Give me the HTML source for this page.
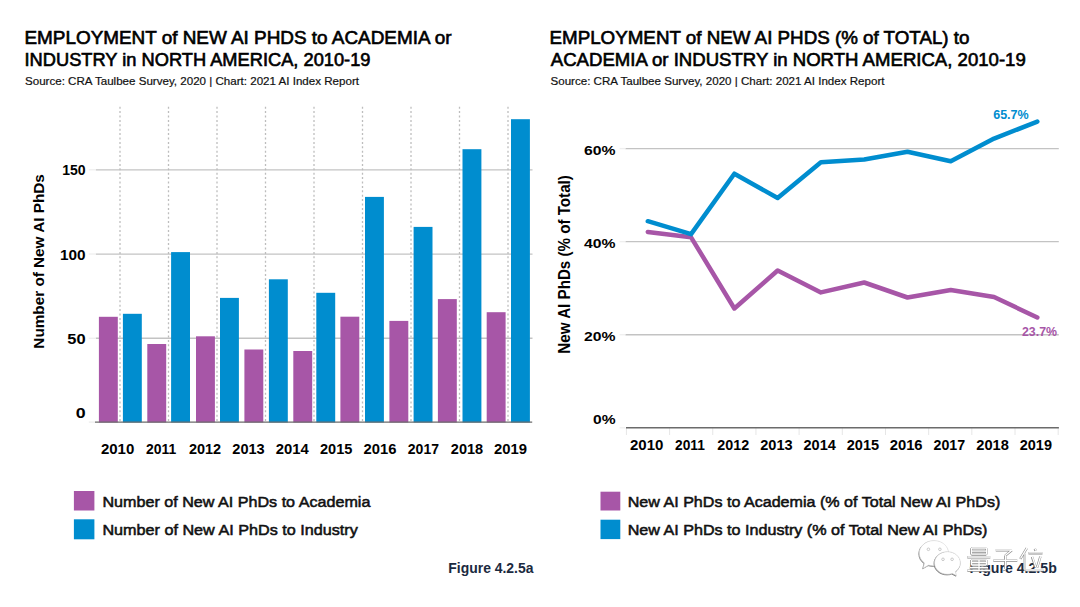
<!DOCTYPE html><html><head><meta charset="utf-8"><style>html,body{margin:0;padding:0;background:#fff;width:1080px;height:607px;overflow:hidden}svg{display:block}text{font-family:"Liberation Sans",sans-serif}</style></head><body>
<svg width="1080" height="607" viewBox="0 0 1080 607">
<rect width="1080" height="607" fill="#fff"/>
<text x="24.5" y="43.7" font-size="17.5" font-weight="normal" fill="#000" text-anchor="start" textLength="427" lengthAdjust="spacingAndGlyphs"  stroke="#000" stroke-width="0.6">EMPLOYMENT of NEW AI PHDS to ACADEMIA or</text>
<text x="24.5" y="66.2" font-size="17.5" font-weight="normal" fill="#000" text-anchor="start" textLength="346" lengthAdjust="spacingAndGlyphs"  stroke="#000" stroke-width="0.6">INDUSTRY in NORTH AMERICA, 2010-19</text>
<text x="25" y="85" font-size="11" font-weight="normal" fill="#111" text-anchor="start" textLength="334" lengthAdjust="spacingAndGlyphs"  stroke="#111" stroke-width="0.2">Source: CRA Taulbee Survey, 2020 | Chart: 2021 AI Index Report</text>
<text x="549.5" y="43.5" font-size="17.5" font-weight="normal" fill="#000" text-anchor="start" textLength="420" lengthAdjust="spacingAndGlyphs"  stroke="#000" stroke-width="0.6">EMPLOYMENT of NEW AI PHDS (% of TOTAL) to</text>
<text x="550.8" y="66.2" font-size="17.5" font-weight="normal" fill="#000" text-anchor="start" textLength="475" lengthAdjust="spacingAndGlyphs"  stroke="#000" stroke-width="0.6">ACADEMIA or INDUSTRY in NORTH AMERICA, 2010-19</text>
<text x="550.5" y="85.3" font-size="11" font-weight="normal" fill="#111" text-anchor="start" textLength="334" lengthAdjust="spacingAndGlyphs"  stroke="#111" stroke-width="0.2">Source: CRA Taulbee Survey, 2020 | Chart: 2021 AI Index Report</text>
<line x1="95.8" y1="338.26" x2="532.5" y2="338.26" stroke="#c3c3c3" stroke-width="1.3"/>
<line x1="95.8" y1="254.03" x2="532.5" y2="254.03" stroke="#c3c3c3" stroke-width="1.3"/>
<line x1="95.8" y1="169.79" x2="532.5" y2="169.79" stroke="#c3c3c3" stroke-width="1.3"/>
<line x1="120.00" y1="106.7" x2="120.00" y2="422" stroke="#bdbdbd" stroke-width="1.3" stroke-dasharray="2 2.4"/>
<line x1="168.50" y1="106.7" x2="168.50" y2="422" stroke="#bdbdbd" stroke-width="1.3" stroke-dasharray="2 2.4"/>
<line x1="217.00" y1="106.7" x2="217.00" y2="422" stroke="#bdbdbd" stroke-width="1.3" stroke-dasharray="2 2.4"/>
<line x1="265.50" y1="106.7" x2="265.50" y2="422" stroke="#bdbdbd" stroke-width="1.3" stroke-dasharray="2 2.4"/>
<line x1="314.00" y1="106.7" x2="314.00" y2="422" stroke="#bdbdbd" stroke-width="1.3" stroke-dasharray="2 2.4"/>
<line x1="362.50" y1="106.7" x2="362.50" y2="422" stroke="#bdbdbd" stroke-width="1.3" stroke-dasharray="2 2.4"/>
<line x1="411.00" y1="106.7" x2="411.00" y2="422" stroke="#bdbdbd" stroke-width="1.3" stroke-dasharray="2 2.4"/>
<line x1="459.50" y1="106.7" x2="459.50" y2="422" stroke="#bdbdbd" stroke-width="1.3" stroke-dasharray="2 2.4"/>
<line x1="508.00" y1="106.7" x2="508.00" y2="422" stroke="#bdbdbd" stroke-width="1.3" stroke-dasharray="2 2.4"/>
<rect x="98.90" y="316.8" width="18.9" height="105.70" fill="#a756a7"/>
<rect x="122.90" y="313.8" width="18.9" height="108.70" fill="#008dcf"/>
<rect x="147.30" y="344" width="18.9" height="78.50" fill="#a756a7"/>
<rect x="171.10" y="252.1" width="18.9" height="170.40" fill="#008dcf"/>
<rect x="196.00" y="336.3" width="18.9" height="86.20" fill="#a756a7"/>
<rect x="220.00" y="297.9" width="18.9" height="124.60" fill="#008dcf"/>
<rect x="244.40" y="349.5" width="18.9" height="73.00" fill="#a756a7"/>
<rect x="268.90" y="279.3" width="18.9" height="143.20" fill="#008dcf"/>
<rect x="293.30" y="351" width="18.9" height="71.50" fill="#a756a7"/>
<rect x="316.30" y="292.8" width="18.9" height="129.70" fill="#008dcf"/>
<rect x="340.40" y="316.7" width="18.9" height="105.80" fill="#a756a7"/>
<rect x="365.00" y="196.9" width="18.9" height="225.60" fill="#008dcf"/>
<rect x="389.40" y="320.9" width="18.9" height="101.60" fill="#a756a7"/>
<rect x="413.60" y="226.9" width="18.9" height="195.60" fill="#008dcf"/>
<rect x="437.90" y="299.1" width="18.9" height="123.40" fill="#a756a7"/>
<rect x="462.50" y="149.2" width="18.9" height="273.30" fill="#008dcf"/>
<rect x="486.70" y="312.2" width="18.9" height="110.30" fill="#a756a7"/>
<rect x="511.00" y="119.2" width="18.9" height="303.30" fill="#008dcf"/>
<line x1="95" y1="422.1" x2="532.2" y2="422.1" stroke="#6b6b6b" stroke-width="1.4"/>
<line x1="88.8" y1="422.1" x2="95" y2="422.1" stroke="#eeeeee" stroke-width="1.4"/>
<line x1="88.8" y1="338.26" x2="95.8" y2="338.26" stroke="#efefef" stroke-width="1.3"/>
<line x1="88.8" y1="254.03" x2="95.8" y2="254.03" stroke="#efefef" stroke-width="1.3"/>
<line x1="88.8" y1="169.79" x2="95.8" y2="169.79" stroke="#efefef" stroke-width="1.3"/>
<text x="85.6" y="418.40" font-size="14" font-weight="bold" fill="#000" text-anchor="end" textLength="9.9" lengthAdjust="spacingAndGlyphs" >0</text>
<text x="85.6" y="344.06" font-size="14" font-weight="bold" fill="#000" text-anchor="end" textLength="18.3" lengthAdjust="spacingAndGlyphs" >50</text>
<text x="85.6" y="259.73" font-size="14" font-weight="bold" fill="#000" text-anchor="end" textLength="25.6" lengthAdjust="spacingAndGlyphs" >100</text>
<text x="85.6" y="175.49" font-size="14" font-weight="bold" fill="#000" text-anchor="end" textLength="23.4" lengthAdjust="spacingAndGlyphs" >150</text>
<text x="117.60" y="454.0" font-size="14.5" font-weight="bold" fill="#000" text-anchor="middle" textLength="33.4" lengthAdjust="spacingAndGlyphs" >2010</text>
<text x="161.20" y="454.0" font-size="14.5" font-weight="bold" fill="#000" text-anchor="middle" textLength="30.2" lengthAdjust="spacingAndGlyphs" >2011</text>
<text x="205.00" y="454.0" font-size="14.5" font-weight="bold" fill="#000" text-anchor="middle" textLength="32.2" lengthAdjust="spacingAndGlyphs" >2012</text>
<text x="248.50" y="454.0" font-size="14.5" font-weight="bold" fill="#000" text-anchor="middle" textLength="32.4" lengthAdjust="spacingAndGlyphs" >2013</text>
<text x="292.20" y="454.0" font-size="14.5" font-weight="bold" fill="#000" text-anchor="middle" textLength="33.0" lengthAdjust="spacingAndGlyphs" >2014</text>
<text x="336.20" y="454.0" font-size="14.5" font-weight="bold" fill="#000" text-anchor="middle" textLength="32.4" lengthAdjust="spacingAndGlyphs" >2015</text>
<text x="380.00" y="454.0" font-size="14.5" font-weight="bold" fill="#000" text-anchor="middle" textLength="32.9" lengthAdjust="spacingAndGlyphs" >2016</text>
<text x="423.40" y="454.0" font-size="14.5" font-weight="bold" fill="#000" text-anchor="middle" textLength="31.2" lengthAdjust="spacingAndGlyphs" >2017</text>
<text x="467.00" y="454.0" font-size="14.5" font-weight="bold" fill="#000" text-anchor="middle" textLength="32.3" lengthAdjust="spacingAndGlyphs" >2018</text>
<text x="510.50" y="454.0" font-size="14.5" font-weight="bold" fill="#000" text-anchor="middle" textLength="33.0" lengthAdjust="spacingAndGlyphs" >2019</text>
<text transform="translate(44.1 261.4) rotate(-90)" x="0" y="0" font-size="15.2" font-weight="bold" text-anchor="middle" textLength="174.5" lengthAdjust="spacingAndGlyphs">Number of New AI PhDs</text>
<rect x="73.9" y="491" width="20.5" height="19.5" fill="#a756a7"/>
<rect x="73.9" y="519.3" width="20.5" height="20" fill="#008dcf"/>
<text x="102.4" y="506.7" font-size="15.5" font-weight="normal" fill="#111" text-anchor="start" textLength="268" lengthAdjust="spacingAndGlyphs"  stroke="#111" stroke-width="0.55">Number of New AI PhDs to Academia</text>
<text x="102.4" y="535.4" font-size="15.5" font-weight="normal" fill="#111" text-anchor="start" textLength="255.4" lengthAdjust="spacingAndGlyphs"  stroke="#111" stroke-width="0.55">Number of New AI PhDs to Industry</text>
<text x="448.3" y="573.2" font-size="14" font-weight="bold" fill="#1b2a40" text-anchor="start" textLength="85.2" lengthAdjust="spacingAndGlyphs" >Figure 4.2.5a</text>
<line x1="625.4" y1="334.73" x2="1058.8" y2="334.73" stroke="#c3c3c3" stroke-width="1.3"/>
<line x1="625.4" y1="241.66" x2="1058.8" y2="241.66" stroke="#c3c3c3" stroke-width="1.3"/>
<line x1="625.4" y1="148.59" x2="1058.8" y2="148.59" stroke="#c3c3c3" stroke-width="1.3"/>
<line x1="626.40" y1="428" x2="626.40" y2="435" stroke="#e6e6e6" stroke-width="1"/>
<line x1="669.58" y1="428" x2="669.58" y2="435" stroke="#e6e6e6" stroke-width="1"/>
<line x1="712.76" y1="428" x2="712.76" y2="435" stroke="#e6e6e6" stroke-width="1"/>
<line x1="755.94" y1="428" x2="755.94" y2="435" stroke="#e6e6e6" stroke-width="1"/>
<line x1="799.12" y1="428" x2="799.12" y2="435" stroke="#e6e6e6" stroke-width="1"/>
<line x1="842.30" y1="428" x2="842.30" y2="435" stroke="#e6e6e6" stroke-width="1"/>
<line x1="885.48" y1="428" x2="885.48" y2="435" stroke="#e6e6e6" stroke-width="1"/>
<line x1="928.66" y1="428" x2="928.66" y2="435" stroke="#e6e6e6" stroke-width="1"/>
<line x1="971.84" y1="428" x2="971.84" y2="435" stroke="#e6e6e6" stroke-width="1"/>
<line x1="1015.02" y1="428" x2="1015.02" y2="435" stroke="#e6e6e6" stroke-width="1"/>
<line x1="1058.20" y1="428" x2="1058.20" y2="435" stroke="#e6e6e6" stroke-width="1"/>
<line x1="626" y1="427.8" x2="1058.9" y2="427.8" stroke="#6b6b6b" stroke-width="1.5"/>
<line x1="619.6" y1="427.80" x2="625.4" y2="427.80" stroke="#efefef" stroke-width="1.3"/>
<line x1="619.6" y1="334.73" x2="625.4" y2="334.73" stroke="#efefef" stroke-width="1.3"/>
<line x1="619.6" y1="241.66" x2="625.4" y2="241.66" stroke="#efefef" stroke-width="1.3"/>
<line x1="619.6" y1="148.59" x2="625.4" y2="148.59" stroke="#efefef" stroke-width="1.3"/>
<text x="615.5" y="424.40" font-size="13.5" font-weight="bold" fill="#000" text-anchor="end" textLength="22.5" lengthAdjust="spacingAndGlyphs" >0%</text>
<text x="615.5" y="340.83" font-size="13.5" font-weight="bold" fill="#000" text-anchor="end" textLength="31.5" lengthAdjust="spacingAndGlyphs" >20%</text>
<text x="615.5" y="247.76" font-size="13.5" font-weight="bold" fill="#000" text-anchor="end" textLength="31.5" lengthAdjust="spacingAndGlyphs" >40%</text>
<text x="615.5" y="154.69" font-size="13.5" font-weight="bold" fill="#000" text-anchor="end" textLength="31.5" lengthAdjust="spacingAndGlyphs" >60%</text>
<text x="646.70" y="450" font-size="14" font-weight="bold" fill="#000" text-anchor="middle" textLength="33.4" lengthAdjust="spacingAndGlyphs" >2010</text>
<text x="689.94" y="450" font-size="14" font-weight="bold" fill="#000" text-anchor="middle" textLength="29.799999999999997" lengthAdjust="spacingAndGlyphs" >2011</text>
<text x="733.18" y="450" font-size="14" font-weight="bold" fill="#000" text-anchor="middle" textLength="31.9" lengthAdjust="spacingAndGlyphs" >2012</text>
<text x="776.42" y="450" font-size="14" font-weight="bold" fill="#000" text-anchor="middle" textLength="32.4" lengthAdjust="spacingAndGlyphs" >2013</text>
<text x="819.66" y="450" font-size="14" font-weight="bold" fill="#000" text-anchor="middle" textLength="32.3" lengthAdjust="spacingAndGlyphs" >2014</text>
<text x="862.90" y="450" font-size="14" font-weight="bold" fill="#000" text-anchor="middle" textLength="32.4" lengthAdjust="spacingAndGlyphs" >2015</text>
<text x="906.14" y="450" font-size="14" font-weight="bold" fill="#000" text-anchor="middle" textLength="32.9" lengthAdjust="spacingAndGlyphs" >2016</text>
<text x="949.38" y="450" font-size="14" font-weight="bold" fill="#000" text-anchor="middle" textLength="31.599999999999998" lengthAdjust="spacingAndGlyphs" >2017</text>
<text x="992.62" y="450" font-size="14" font-weight="bold" fill="#000" text-anchor="middle" textLength="32.6" lengthAdjust="spacingAndGlyphs" >2018</text>
<text x="1035.86" y="450" font-size="14" font-weight="bold" fill="#000" text-anchor="middle" textLength="32.2" lengthAdjust="spacingAndGlyphs" >2019</text>
<text transform="translate(570.2 264.4) rotate(-90)" x="0" y="0" font-size="16" font-weight="bold" text-anchor="middle" textLength="178.5" lengthAdjust="spacingAndGlyphs">New AI PhDs (% of Total)</text>
<polyline points="647.8,231.9 691.08,237.3 734.36,308.5 777.64,270.5 820.92,292.4 864.2,282.5 907.48,297.5 950.76,290 994.04,297 1037.32,317.5" fill="none" stroke="#a756a7" stroke-width="4.5" stroke-linecap="round" stroke-linejoin="round"/>
<polyline points="647.8,221.2 691.08,234.1 734.36,173.7 777.64,198.0 820.92,162.2 864.2,159.5 907.48,151.75 950.76,161.25 994.04,138.6 1037.32,121.6" fill="none" stroke="#008dcf" stroke-width="4.5" stroke-linecap="round" stroke-linejoin="round"/>
<text x="993.2" y="118.75" font-size="12" font-weight="bold" fill="#008dcf" text-anchor="start" textLength="35.5" lengthAdjust="spacingAndGlyphs" >65.7%</text>
<text x="1022" y="335.5" font-size="12" font-weight="bold" fill="#a756a7" text-anchor="start" textLength="35" lengthAdjust="spacingAndGlyphs" >23.7%</text>
<rect x="600.5" y="491.7" width="19.8" height="18.8" fill="#a756a7"/>
<rect x="600.5" y="519.7" width="19.8" height="19.4" fill="#008dcf"/>
<text x="627.7" y="506.7" font-size="15.5" font-weight="normal" fill="#111" text-anchor="start" textLength="372.6" lengthAdjust="spacingAndGlyphs"  stroke="#111" stroke-width="0.55">New AI PhDs to Academia (% of Total New AI PhDs)</text>
<text x="627.7" y="535.4" font-size="15.5" font-weight="normal" fill="#111" text-anchor="start" textLength="359.8" lengthAdjust="spacingAndGlyphs"  stroke="#111" stroke-width="0.55">New AI PhDs to Industry (% of Total New AI PhDs)</text>
<text x="969.6" y="573.3" font-size="14" font-weight="bold" fill="#1b2a40" text-anchor="start" textLength="87.2" lengthAdjust="spacingAndGlyphs" >Figure 4.2.5b</text>
<g fill="none" stroke-linecap="butt"><path d="M971.5 548L986.5 548M971.5 551.2L986.5 551.2M971.5 554.2L986.5 554.2M971.5 548L971.5 554.2M986.5 548L986.5 554.2M967.5 557L990.5 557M971.5 559.8L986.5 559.8M971.5 562.5L986.5 562.5M971.5 565L986.5 565M971.5 559.8L971.5 565M986.5 559.8L986.5 565M979.0 559.8L979.0 570.3M970.0 567.7L988.0 567.7M967.5 570.3L990.5 570.3M996.0 550.0L1012.0 550.0M1012.0 550.0L1005.5 555.3M1005.5 555.3L1005.5 569.0M1005.5 569.0L1003.0 569.8M993.5 560.3L1017.5 560.3M1027 547.8L1020.5 558.5M1025 553.5L1025 570.5M1035 548.5L1035.8 550.5M1028.7 552.9L1042.7 552.9M1032.2 556.5L1035.8 567M1040.6 556.2L1037.4 567M1026 570L1043.5 570" stroke="#8c8c8c" stroke-width="2.4" transform="translate(-0.2 0.3)"/><path d="M971.5 548L986.5 548M971.5 551.2L986.5 551.2M971.5 554.2L986.5 554.2M971.5 548L971.5 554.2M986.5 548L986.5 554.2M967.5 557L990.5 557M971.5 559.8L986.5 559.8M971.5 562.5L986.5 562.5M971.5 565L986.5 565M971.5 559.8L971.5 565M986.5 559.8L986.5 565M979.0 559.8L979.0 570.3M970.0 567.7L988.0 567.7M967.5 570.3L990.5 570.3M996.0 550.0L1012.0 550.0M1012.0 550.0L1005.5 555.3M1005.5 555.3L1005.5 569.0M1005.5 569.0L1003.0 569.8M993.5 560.3L1017.5 560.3M1027 547.8L1020.5 558.5M1025 553.5L1025 570.5M1035 548.5L1035.8 550.5M1028.7 552.9L1042.7 552.9M1032.2 556.5L1035.8 567M1040.6 556.2L1037.4 567M1026 570L1043.5 570" stroke="#fff" stroke-width="1.3"/></g>
<g stroke-linejoin="round"><path d="M934 540.6C925.8 540.6 919.3 546.2 919.3 553.3C919.3 557.3 921.3 560.6 924.5 563L923.2 568.2L928.6 565.1C930.3 565.6 932.1 565.9 934 565.9C941 565.9 948.6 561 948.6 553.3C948.6 546.2 942.2 540.6 934 540.6Z" fill="#888" stroke="#888" stroke-width="0.8" transform="translate(-0.5 0.6)"/><path d="M934 540.6C925.8 540.6 919.3 546.2 919.3 553.3C919.3 557.3 921.3 560.6 924.5 563L923.2 568.2L928.6 565.1C930.3 565.6 932.1 565.9 934 565.9C941 565.9 948.6 561 948.6 553.3C948.6 546.2 942.2 540.6 934 540.6Z" fill="#fff" stroke="#d6d6d6" stroke-width="0.6"/><path d="M947.5 551.7C940.3 551.7 934.5 556.7 934.5 563C934.5 569.3 940.3 574.3 947.5 574.3C949.2 574.3 950.8 574 952.3 573.5L956.4 575.6L955.5 571.6C958.4 569.5 960.4 566.4 960.4 563C960.4 556.7 954.7 551.7 947.5 551.7Z" fill="#777" stroke="#777" stroke-width="0.8" transform="translate(-0.5 0.6)"/><path d="M947.5 551.7C940.3 551.7 934.5 556.7 934.5 563C934.5 569.3 940.3 574.3 947.5 574.3C949.2 574.3 950.8 574 952.3 573.5L956.4 575.6L955.5 571.6C958.4 569.5 960.4 566.4 960.4 563C960.4 556.7 954.7 551.7 947.5 551.7Z" fill="#fff" stroke="#d0d0d0" stroke-width="0.6"/>
<circle cx="928.4" cy="549.3" r="1.3" fill="#fff" stroke="#aaa" stroke-width="0.6"/>
<circle cx="939.9" cy="549.3" r="1.3" fill="#fff" stroke="#aaa" stroke-width="0.6"/>
<circle cx="943" cy="559.3" r="1.3" fill="#fff" stroke="#aaa" stroke-width="0.6"/>
<circle cx="952.1" cy="559.3" r="1.3" fill="#fff" stroke="#aaa" stroke-width="0.6"/>
</g>
</svg></body></html>
